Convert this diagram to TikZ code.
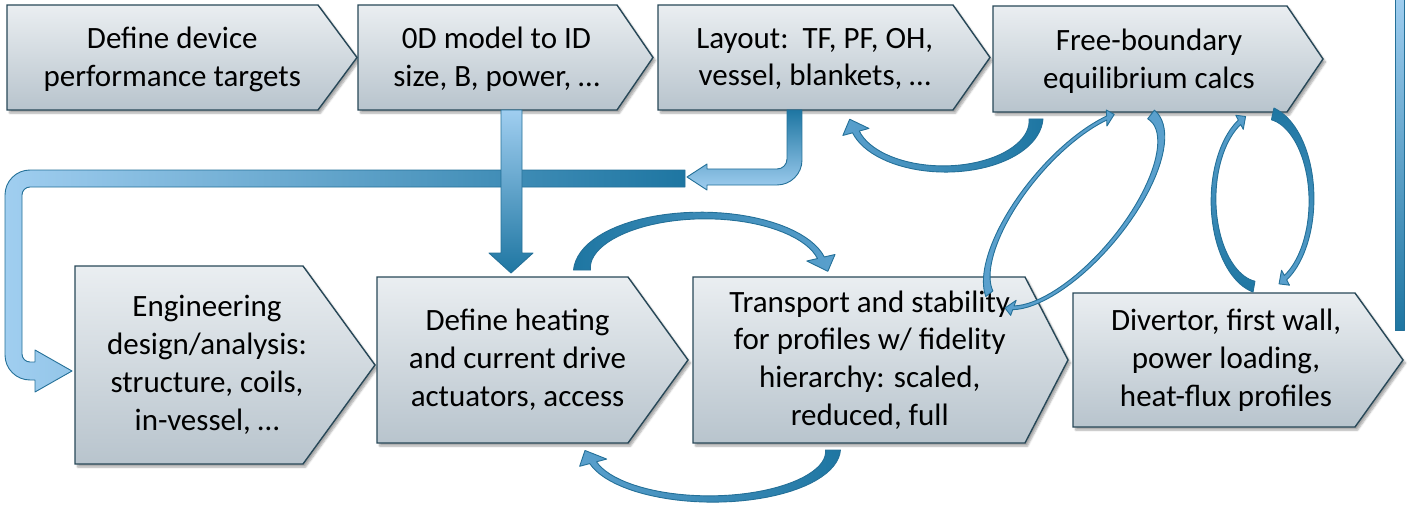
\documentclass[tikz,border=0pt]{standalone}
\usepackage{fontspec}
\setmainfont{Carlito}
\usetikzlibrary{calc,backgrounds,shadows.blur}
\definecolor{boxtop}{RGB}{234,238,241}
\definecolor{boxbot}{RGB}{184,196,205}
\definecolor{boxline}{RGB}{40,72,88}
\definecolor{arrowdark}{RGB}{30,118,162}
\definecolor{arrowlight}{RGB}{160,206,240}
\definecolor{arrowmid}{RGB}{90,160,205}
\definecolor{arrowline}{RGB}{36,112,152}
\tikzset{
 boxtext/.style={inner sep=0pt, outer sep=0pt, align=center, font=\fontsize{31}{37.8}\selectfont, text=black},
 toprow/.style={text depth=1pt},
 boxshape/.style={draw=boxline, line width=1.4pt, line join=miter, top color=boxtop, bottom color=boxbot,
   blur shadow={shadow xshift=2.5pt, shadow yshift=-3pt, shadow blur steps=6, shadow opacity=35}},
 arr/.style={draw=arrowline, line width=0.9pt, line join=round},
}
% pentagon (home plate) drawn around a text node: #1 node, #2 tip length
\newcommand\hplate[2]{\path[boxshape] (#1.north west) -- ($(#1.north east)+({-#2/2},0)$) -- ($(#1.east)+({#2/2},0)$) -- ($(#1.south east)+({-#2/2},0)$) -- (#1.south west) -- cycle;}
% tapered elliptic curved arrow: #1 style, #2 a, #3 b, #4 t0, #5 t1, #6 tail half width, #7 middle half width, #8 neck half width, #9 head half width
\newcommand\tarrow[9]{%
 \pgfmathsetmacro\tsg{(#5>#4)*2-1}%
 \pgfmathsetmacro\tnrm{veclen(#2*sin(#5),#3*cos(#5))}%
 \pgfmathsetmacro\tipx{#2*cos(#5)-\tsg*1.05*#9*#2*sin(#5)/\tnrm}%
 \pgfmathsetmacro\tipy{#3*sin(#5)+\tsg*1.05*#9*#3*cos(#5)/\tnrm}%
 \def\ss{((\t-(#4))/((#5)-(#4)))}%
 \def\hh{(#7+(#6-#7)*(1-\ss)*(1-\ss)*(1-\ss)+(#8-#7)*\ss*\ss*\ss)}%
 \path[#1] plot[domain=#4:#5,samples=40,variable=\t] ({(#2+\hh)*cos(\t)},{(#3+\hh)*sin(\t)})
   -- ({(#2+#9)*cos(#5)},{(#3+#9)*sin(#5)}) -- (\tipx,\tipy)
   -- ({(#2-#9)*cos(#5)},{(#3-#9)*sin(#5)})
   -- plot[domain=#5:#4,samples=40,variable=\t] ({(#2-\hh)*cos(\t)},{(#3-\hh)*sin(\t)}) -- cycle;}
\begin{document}
\begin{tikzpicture}[x=1pt,y=-1pt]
\useasboundingbox (0,0) rectangle (1411,508);
% nodes (text areas)
\node[boxtext, toprow, minimum width=330.5pt, minimum height=105pt] (b1) at (172.25,57.5) {Define device\\performance targets};
\node[boxtext, toprow, minimum width=277pt, minimum height=105pt] (b2) at (496.5,57.5) {0D model to ID\\size, B, power, …};
\node[boxtext, toprow, minimum width=313.5pt, minimum height=105pt] (b3) at (814.75,57.5) {Layout:\ \ TF, PF, OH,\\vessel, blankets, …};
\node[boxtext, toprow, minimum width=312pt, minimum height=106pt] (b4) at (1149,59) {Free-boundary\\equilibrium calcs};
\node[boxtext, minimum width=264pt, minimum height=198pt] (b5) at (207,365) {Engineering\\design/analysis:\\structure, coils,\\in-vessel, …};
\node[boxtext, minimum width=281pt, minimum height=166pt] (b6) at (517.5,360) {Define heating\\and current drive\\actuators, access};
\node[boxtext, minimum width=353.5pt, minimum height=166pt] (b7) at (869.75,360) {Transport and stability\\for profiles w/ fidelity\\hierarchy: scaled,\\reduced, full};
\node[boxtext, minimum width=306pt, minimum height=134pt] (b8) at (1226,360) {Divertor, first wall,\\power loading,\\heat-flux profiles};
\begin{pgfonlayer}{background}
\hplate{b1}{39}\hplate{b2}{36}\hplate{b3}{37}\hplate{b4}{36}
\hplate{b5}{72}\hplate{b6}{60}\hplate{b7}{43}\hplate{b8}{48}
\end{pgfonlayer}
% long bar from layout arrow to engineering box
\begin{scope}[shift={(b5.west)}]
\path[arr, left color=arrowlight, right color=arrowdark] (610,-195) -- (-45,-195) arc[start angle=-90,end angle=-180,radius=25] -- (-70,-10) arc[start angle=180,end angle=90,radius=25] -- (-40,15) -- (-40,27) -- (-3,6) -- (-40,-15) -- (-40,-3) -- (-45,-3) arc[start angle=90,end angle=180,radius=8] -- (-53,-170) arc[start angle=180,end angle=270,radius=8] -- (610,-178) -- cycle;
\end{scope}
% big vertical arrow b2 -> b6
\begin{scope}[shift={(b2.south)}]
\path[arr, top color=arrowlight, bottom color=arrowdark] (4.5,0) -- (25.5,0) -- (25.5,143) -- (36.5,143) -- (14.5,163) -- (-7.5,143) -- (4.5,143) -- cycle;
\end{scope}
% bent arrow from b3
\begin{scope}[shift={(b3.south)}]
\path[arr, top color=arrowdark, bottom color=arrowlight] (-27.75,0) -- (-12.75,0) -- (-12.75,50) arc[start angle=0,end angle=90,radius=25] -- (-107.75,75) -- (-107.75,80) -- (-127.75,67) -- (-107.75,54) -- (-107.75,59) -- (-37.75,59) arc[start angle=90,end angle=0,radius=10] -- cycle;
\end{scope}
% right bar
\path[arr, top color=arrowlight, bottom color=arrowdark] (1395,-5) rectangle (1404,330);
% curved arrows
\begin{scope}[shift={($(b6.north)+(185.5,-7)$)}]
\tarrow{arr, left color=arrowdark, right color=arrowmid}{121}{54.5}{180}{347}{8.5}{2.6}{3.5}{14.5}
\end{scope}
\begin{scope}[shift={($(b7.south)+(-158.75,7)$)}]
\tarrow{arr, right color=arrowdark, left color=arrowmid}{122}{49}{0}{165}{7.5}{2.5}{3.5}{14}
\end{scope}
\begin{scope}[shift={($(b4.south)+(-204.6,7)$)}]
\tarrow{arr, right color=arrowdark, left color=arrowmid}{91.6}{50}{0}{165}{7}{2.5}{3.5}{13.5}
\end{scope}
\begin{scope}[shift={($(b4.south)+(-75,97)$)}, rotate=50]
\tarrow{arr, fill=arrowmid}{122}{50}{192}{318}{4.5}{1.6}{2}{8}
\tarrow{arr, fill=arrowmid}{122}{50}{-2}{160}{5.5}{1.6}{2}{8}
\end{scope}
\begin{scope}[shift={($(b4.south)+(113.5,88)$)}]
\tarrow{arr, top color=arrowmid, bottom color=arrowdark}{49}{88}{100}{242}{5.5}{2}{2.5}{8}
\tarrow{arr, top color=arrowdark, bottom color=arrowmid}{49}{88}{282}{422}{6}{2}{2.5}{8.5}
\end{scope}
\end{tikzpicture}
\end{document}
